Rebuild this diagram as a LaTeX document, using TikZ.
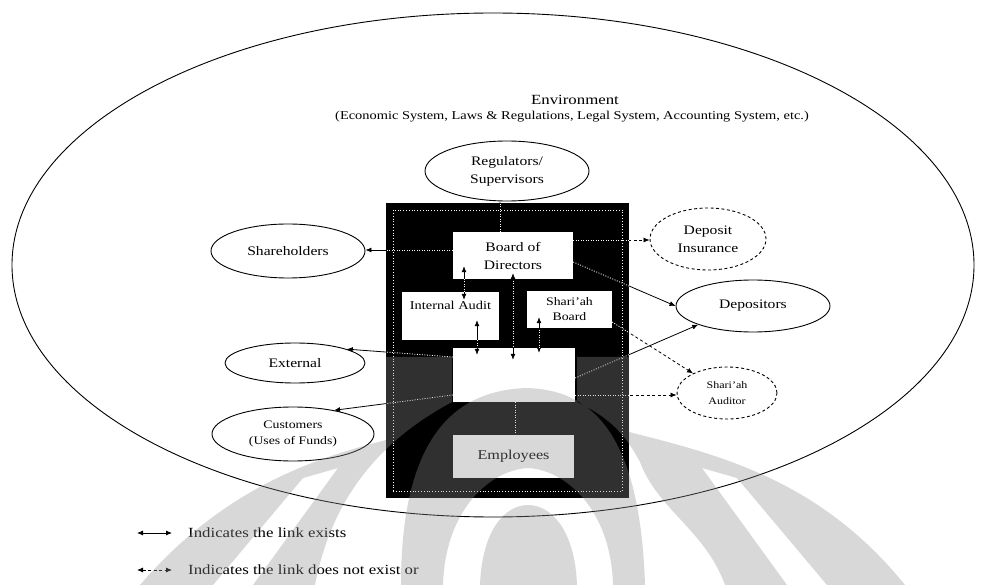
\documentclass[tikz,border=0pt]{standalone}
\usepackage{fontspec}
\setmainfont{Liberation Serif}[FakeStretch=1.2]
\usetikzlibrary{arrows.meta,calc,shapes.geometric}
\tikzset{
  ell/.style={draw, ellipse, line width=0.9pt, inner sep=0pt, align=center, font=\fontsize{13}{18}\selectfont},
  dell/.style={ell, dash pattern=on 3pt off 2.5pt},
  wbox/.style={fill=white, inner sep=0pt, align=center, font=\fontsize{13}{18}\selectfont},
  lab/.style={inner sep=0pt, align=center},
  lk/.style={line width=0.8pt, {Latex[length=6pt,width=5pt]}-{Latex[length=6pt,width=5pt]}},
  lkd/.style={lk, dash pattern=on 3pt off 2.5pt},
}
\newcommand\banklinks{%
  \draw[lk] (reg.south -| xA) -- (bod.north -| xA);
  \draw[lk] (bod.west |- yA) -- (sh.east |- yA);
  \draw[lkd] (bod.east |- yB) -- (di.west |- yB);
  \draw[lk] (bod.east |- yC) -- (dep.west);
  \draw[lk] (mg.east |- yD) -- (dep.south west);
  \draw[lkd] (sb.east |- yE) -- (aud.150);
  \draw[lkd] (mg.east |- yF) -- (aud.west |- yF);
  \draw[lk] (mg.west |- yG) -- (ext.15);
  \draw[lk] (mg.west |- yF) -- (cus.30);
  \draw[lk, shorten <=-8pt, shorten >=-13pt] (ia.north -| xB) -- (bod.south -| xB);
  \draw[lk, shorten <=-20pt, shorten >=-7pt] (ia.south -| xC) -- (mg.north -| xC);
  \draw[lk, shorten <=-6pt, shorten >=-12pt] (bod.south -| xD) -- (mg.north -| xD);
  \draw[lk, shorten <=-11pt, shorten >=-5pt] (sb.south -| xE) -- (mg.north -| xE);
  \draw[lk] (mg.south -| xF) -- (emp.north -| xF);
}
\begin{document}
\begin{tikzpicture}[x=1pt,y=-1pt]
\useasboundingbox (0,0) rectangle (983,585);
\fill[white] (0,0) rectangle (983,585);

% environment
\node[draw, ellipse, line width=0.9pt, minimum width=962pt, minimum height=504pt, inner sep=0pt] (env) at (493,265) {};
\node[lab, font=\fontsize{14}{16}\selectfont] (envt) at (575,100) {Environment};
\node[lab, font=\fontsize{12}{14}\selectfont] (envs) at (572,117) {(Economic System, Laws \& Regulations, Legal System, Accounting System, etc.)};

% helper coordinates for connector positions
\coordinate (xA) at (500,0);
\coordinate (xB) at (464,0);
\coordinate (xC) at (477,0);
\coordinate (xD) at (513,0);
\coordinate (xE) at (539,0);
\coordinate (xF) at (515,0);
\coordinate (yA) at (0,250);
\coordinate (yB) at (0,240);
\coordinate (yC) at (0,262);
\coordinate (yD) at (0,378);
\coordinate (yE) at (0,322);
\coordinate (yF) at (0,395);
\coordinate (yG) at (0,357);

% bank box
\node[fill=black, minimum width=243pt, minimum height=295pt, inner sep=0pt] (bank) at (507.5,350.5) {};
\node[draw=white, dotted, line width=0.8pt, minimum width=229pt, minimum height=281pt, inner sep=0pt] (bankin) at (507.5,350.5) {};
\node[wbox, minimum width=120pt, minimum height=47pt] (bod) at (513,255.5) {Board of\\Directors};
\node[wbox, minimum width=97pt, minimum height=48pt] (ia) at (450.5,316) {};
\node[lab, font=\fontsize{12}{15}\selectfont] (iat) at (450.5,305) {Internal Audit};
\node[wbox, minimum width=85pt, minimum height=37pt, font=\fontsize{11.5}{15}\selectfont] (sb) at (569.5,309.5) {Shari'ah\\Board};
\node[wbox, minimum width=122pt, minimum height=54pt] (mg) at (514,375) {};
\node[wbox, minimum width=121pt, minimum height=43pt, font=\fontsize{13.5}{18}\selectfont] (emp) at (513.5,456.5) {Employees};

% outside parties
\node[ell, minimum width=164pt, minimum height=60pt] (reg) at (507,171) {Regulators/\\Supervisors};
\node[ell, minimum width=154pt, minimum height=54pt] (sh) at (288,251) {Shareholders};
\node[dell, minimum width=116pt, minimum height=62pt] (di) at (708,239) {Deposit\\Insurance};
\node[ell, minimum width=154pt, minimum height=52pt] (dep) at (753,306) {Depositors};
\node[ell, minimum width=140pt, minimum height=40pt] (ext) at (295,363) {External};
\node[dell, minimum width=100pt, minimum height=52pt, font=\fontsize{10}{16}\selectfont] (aud) at (727,393) {Shari'ah\\Auditor};
\node[ell, minimum width=162pt, minimum height=54pt, font=\fontsize{11.5}{16}\selectfont] (cus) at (293,434) {Customers\\(Uses of Funds)};

% connectors
\banklinks
\begin{scope}[even odd rule]
  \clip (bank.north west) rectangle (bank.south east)
    (bod.north west) rectangle (bod.south east)
    (ia.north west) rectangle (ia.south east)
    (sb.north west) rectangle (sb.south east)
    (mg.north west) rectangle (mg.south east)
    (emp.north west) rectangle (emp.south east);
  \tikzset{lk/.style={draw=white, line width=0.8pt, dash pattern=on 1pt off 1.5pt}, lkd/.style={lk}}
  \banklinks
\end{scope}

% legend
\coordinate (la1) at (137,533);
\coordinate (la2) at (172,533);
\coordinate (lb1) at (137,570);
\coordinate (lb2) at (172,570);
\draw[lk] (la1) -- (la2);
\draw[lkd] (lb1) -- (lb2);
\node[lab, anchor=west, font=\fontsize{14}{16}\selectfont] (lt1) at (188,533) {Indicates the link exists};
\node[lab, anchor=west, font=\fontsize{14}{16}\selectfont] (lt2) at (188,570) {Indicates the link does not exist or};

% watermark
\fill[black!44, opacity=0.34, even odd rule]
  (140,585) .. controls (230,480) and (330,455) .. (386,440) -- (386,357) -- (452,357) -- (452,402) -- (577,402) -- (577,357) -- (629,357) -- (629,432) .. controls (720,455) and (820,480) .. (905,585) -- cycle
  (315,585) .. controls (335,480) and (400,430) .. (452,402) -- (577,402) .. controls (615,420) and (628,440) .. (640,462) .. controls (658,510) and (705,530) .. (725,585) -- cycle
  (401,585) .. controls (401,430) and (460,390) .. (527,388) .. controls (590,390) and (640,430) .. (645,585) -- cycle
  (443,585) .. controls (445,510) and (490,470) .. (528,468) .. controls (566,470) and (611,510) .. (613,585) -- cycle
  (480,585) .. controls (482,530) and (505,505) .. (528,505) .. controls (551,505) and (575,530) .. (577,585) -- cycle
  (213,585) -- (253,585) -- (338,468) -- (303,478) -- cycle
  (827,585) -- (787,585) -- (702,468) -- (737,478) -- cycle;
\end{tikzpicture}
\end{document}
